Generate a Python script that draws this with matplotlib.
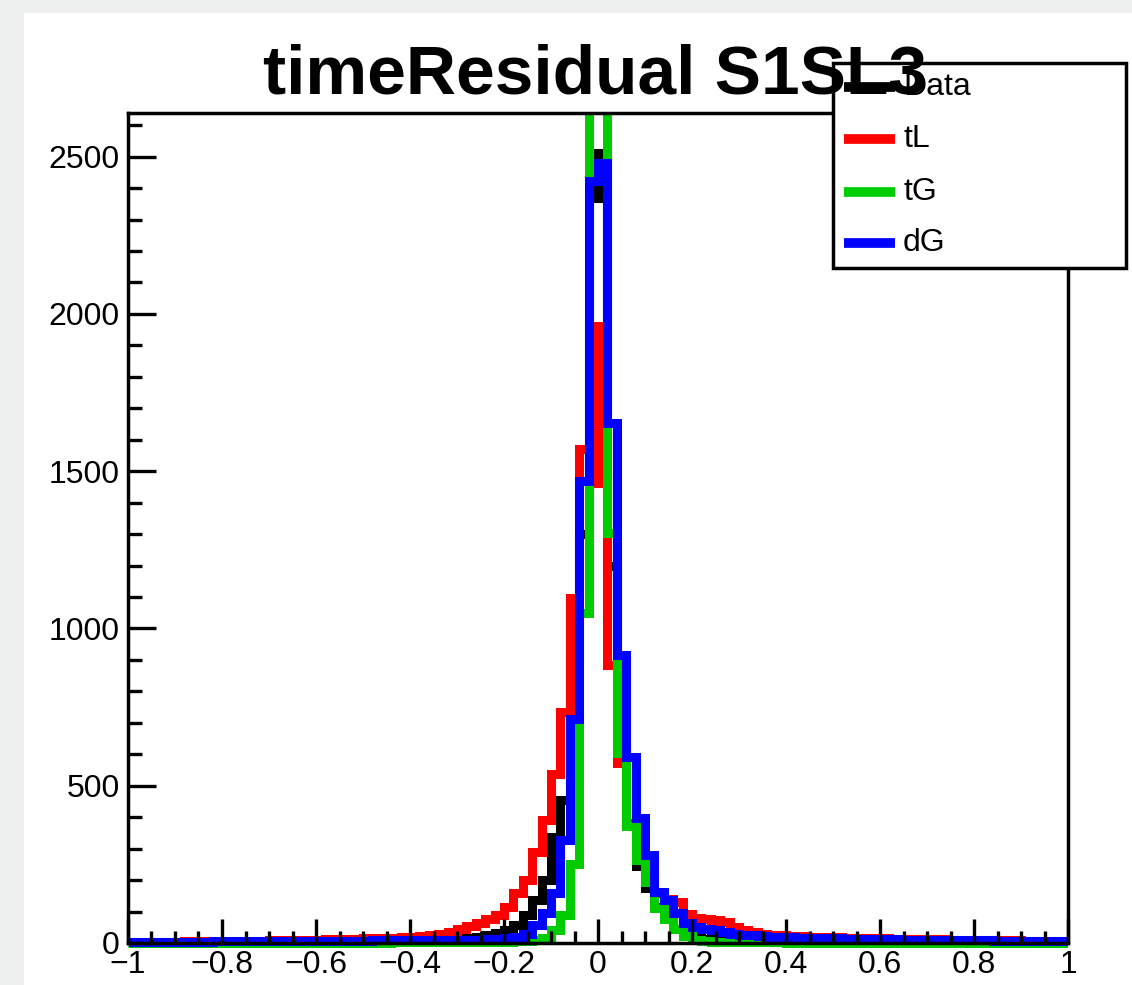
import numpy as np
import matplotlib
matplotlib.use("Agg")
import matplotlib.pyplot as plt
from matplotlib.patches import Rectangle
from matplotlib.lines import Line2D
from matplotlib.ticker import MultipleLocator, FuncFormatter

plt.rcParams['font.family'] = ['Liberation Sans', 'DejaVu Sans']

# histogram binning: 100 bins from -1 to 1
nbins = 100
xmin, xmax = -1.0, 1.0

# per-bin counts
data_counts = [
    2, 3, 2, 3, 2, 3, 3, 2, 3, 4,
    3, 3, 4, 3, 4, 4, 5, 4, 5, 5,
    6, 5, 6, 7, 7, 8, 8, 9, 10, 11,
    12, 13, 14, 15, 16, 16, 17, 20, 25, 32,
    41, 57, 89, 137, 200, 337, 454, 900, 1300, 2370,
    2513, 1200, 620, 380, 245, 175, 115, 75, 45, 28,
    18, 14, 12, 10, 9, 9, 8, 8, 7, 7,
    7, 6, 6, 6, 5, 5, 5, 5, 4, 4,
    4, 4, 4, 3, 3, 3, 3, 3, 3, 2,
    2, 2, 2, 2, 2, 2, 2, 1, 1, 1]

tL_counts = [
    3, 3, 4, 3, 4, 4, 5, 4, 5, 5,
    6, 6, 6, 7, 7, 8, 8, 9, 10, 10,
    11, 12, 12, 13, 14, 15, 15, 16, 17, 18,
    20, 22, 25, 30, 36, 44, 54, 64, 75, 90,
    115, 158, 200, 289, 390, 537, 734, 1096, 1572, 1963,
    1461, 883, 572, 380, 270, 200, 160, 140, 130, 92,
    78, 75, 72, 68, 50, 40, 35, 30, 27, 25,
    22, 21, 20, 19, 18, 18, 17, 16, 16, 15,
    15, 14, 14, 13, 13, 12, 12, 11, 11, 10,
    10, 9, 9, 8, 8, 7, 7, 6, 6, 5]

tG_counts = [
    1, 1, 1, 1, 1, 1, 1, 1, 1, 1,
    1, 1, 1, 1, 1, 1, 1, 1, 1, 1,
    1, 1, 1, 1, 1, 1, 1, 1, 2, 2,
    2, 2, 2, 2, 2, 2, 2, 3, 3, 3,
    4, 5, 6, 8, 16, 41, 89, 250, 1048, 2900,
    2850, 1302, 604, 372, 264, 194, 110, 75, 45, 22,
    10, 6, 4, 3, 3, 2, 2, 2, 2, 2,
    1, 1, 1, 1, 1, 1, 1, 1, 1, 1,
    1, 1, 1, 1, 1, 1, 1, 1, 1, 1,
    1, 1, 1, 1, 1, 1, 1, 1, 1, 1]

dG_counts = [
    4, 4, 4, 4, 4, 4, 4, 4, 4, 5,
    5, 5, 5, 5, 5, 5, 6, 6, 6, 6,
    6, 6, 7, 7, 7, 7, 8, 8, 8, 9,
    8, 8, 9, 9, 10, 10, 11, 11, 12, 13,
    15, 18, 30, 57, 95, 159, 327, 712, 1468, 2424,
    2481, 1652, 915, 591, 397, 280, 162, 137, 95, 64,
    50, 45, 40, 36, 30, 27, 24, 22, 20, 19,
    18, 17, 17, 16, 15, 15, 14, 14, 13, 13,
    12, 12, 11, 11, 10, 10, 9, 9, 9, 8,
    8, 8, 7, 7, 7, 6, 6, 6, 5, 5]

labels = ["Data", "tL", "tG", "dG"]
colors = ["black", "#ff0000", "#00cc00", "#0000ff"]
title = "timeResidual S1SL3"

W, H = 1132, 985
fig = plt.figure(figsize=(W / 100, H / 100), dpi=100, facecolor="#eef0ef")

# white canvas pad behind everything
fig.patches.append(Rectangle((24 / W, 0), 1 - 24 / W, 1 - 13 / H,
                             transform=fig.transFigure, facecolor="white",
                             edgecolor="none", zorder=-5))

ax = fig.add_axes([128 / W, 42 / H, 940 / W, 830 / H])
ax.set_facecolor("white")

edges = np.linspace(xmin, xmax, nbins + 1)
clip = Rectangle((0, -0.012), 1, 1.012, transform=ax.transAxes)
for counts, col in zip([data_counts, tL_counts, tG_counts, dG_counts], colors):
    st = ax.stairs(counts, edges, color=col, linewidth=6.5, baseline=0)
    st.set_joinstyle("miter")
    st.set_capstyle("butt")
    st.set_clip_path(clip)

ymax = 1.05 * max(data_counts)
ax.set_xlim(xmin, xmax)
ax.set_ylim(0, ymax)

for s in ax.spines.values():
    s.set_linewidth(2.5)

ax.xaxis.set_major_locator(MultipleLocator(0.2))
ax.xaxis.set_minor_locator(MultipleLocator(0.05))
ax.yaxis.set_major_locator(MultipleLocator(500))
ax.yaxis.set_minor_locator(MultipleLocator(100))
ax.xaxis.set_major_formatter(
    FuncFormatter(lambda v, p: ("%g" % round(v, 2)).replace("-", "\u2212")))
ax.tick_params(axis="x", which="major", direction="in", length=17, width=2.4,
               labelsize=23, pad=5, top=False)
ax.tick_params(axis="x", which="minor", direction="in", length=8.5, width=2.4, top=False)
ax.tick_params(axis="y", which="major", direction="in", length=20, width=2.4,
               labelsize=23, pad=6, right=False)
ax.tick_params(axis="y", which="minor", direction="in", length=10, width=2.4, right=False)

# legend box (drawn over the frame, under the title)
fig.patches.append(Rectangle((833 / W, 1 - 268 / H), 293 / W, 205 / H,
                             transform=fig.transFigure, facecolor="white",
                             edgecolor="black", linewidth=2.5, zorder=5))
entry_y = [87, 139, 192, 243]
for lab, col, yy in zip(labels, colors, entry_y):
    fig.lines.append(Line2D([844 / W, 895 / W], [1 - yy / H, 1 - yy / H],
                            transform=fig.transFigure, color=col,
                            linewidth=7, solid_capstyle="butt", zorder=6))
    fig.text(903 / W, 1 - yy / H, lab, fontsize=23, va="center", ha="left",
             zorder=7)

fig.text(595 / W, 1 - 93 / H, title, fontsize=50, fontweight="bold",
         ha="center", va="baseline", zorder=10)

fig.savefig("out.png", dpi=100, facecolor=fig.get_facecolor())
